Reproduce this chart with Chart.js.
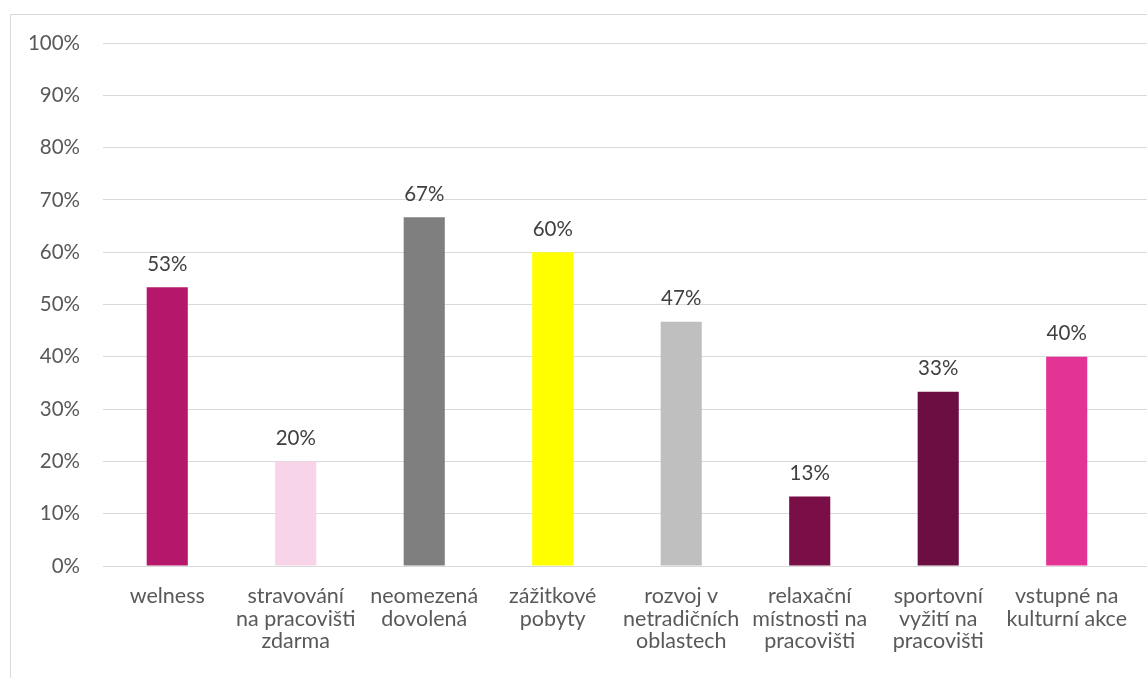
<!DOCTYPE html>
<html>
<head>
<meta charset="utf-8">
<script src="https://cdn.jsdelivr.net/npm/chart.js@4"></script>
<style>
  body { margin: 0; background: #fff; }
  #wrap {
    position: absolute; left: 10px; top: 14px;
    width: 1136px; height: 663px;
    border-left: 1px solid #d9d9d9; border-top: 1px solid #d9d9d9;
  }
</style>
</head>
<body>
<div id="wrap"><canvas id="myChart" width="1136" height="663"></canvas></div>
<script>
// categories (multi-line labels as in the original)
const categories = [
  ["welness"],
  ["stravování", "na pracovišti", "zdarma"],
  ["neomezená", "dovolená"],
  ["zážitkové", "pobyty"],
  ["rozvoj v", "netradičních", "oblastech"],
  ["relaxační", "místnosti na", "pracovišti"],
  ["sportovní", "vyžití na", "pracovišti"],
  ["vstupné na", "kulturní akce"]
];
const values = [53.3, 20, 66.7, 60, 46.7, 13.3, 33.3, 40];
const barColors = ["#b5186b", "#f7d4e8", "#7f7f7f", "#ffff00", "#bfbfbf", "#7a0f48", "#6c0e42", "#e33495"];
const yTicks = [0, 10, 20, 30, 40, 50, 60, 70, 80, 90, 100];

const fontFamily = "Lato, 'Noto Sans', sans-serif";

// labels above the bars
const valueLabels = {
  id: "valueLabels",
  afterDatasetsDraw(chart) {
    const ctx = chart.ctx;
    const meta = chart.getDatasetMeta(0);
    ctx.save();
    ctx.font = "20.5px " + fontFamily;
    ctx.fillStyle = "#404040";
    ctx.textAlign = "center";
    ctx.textBaseline = "bottom";
    meta.data.forEach((bar, i) => {
      ctx.fillText(Math.round(values[i]) + "%", bar.x, bar.y - 13);
    });
    ctx.restore();
  }
};

// the original's gridlines run on to the right edge
const gridTail = {
  id: "gridTail",
  beforeDatasetsDraw(chart) {
    const ctx = chart.ctx;
    const y = chart.scales.y;
    ctx.save();
    ctx.strokeStyle = "#d9d9d9";
    ctx.lineWidth = 1;
    yTicks.forEach((v) => {
      const py = Math.round(y.getPixelForValue(v) - 0.5) + 0.5;
      ctx.beginPath();
      ctx.moveTo(chart.chartArea.right, py);
      ctx.lineTo(chart.width, py);
      ctx.stroke();
    });
    ctx.restore();
  }
};

new Chart("myChart", {
  type: "bar",
  data: {
    labels: categories,
    datasets: [
      {
        data: values,
        backgroundColor: barColors,
        borderWidth: 0,
        barPercentage: 0.32,
        categoryPercentage: 1
      }
    ]
  },
  options: {
    responsive: false,
    animation: false,
    layout: { padding: { top: 28, right: 16, left: 0, bottom: 0 } },
    plugins: {
      legend: { display: false },
      tooltip: { enabled: false }
    },
    scales: {
      x: {
        grid: { display: false, drawTicks: false },
        border: { color: "#d9d9d9", width: 1 },
        ticks: {
          color: "#595959",
          font: { family: fontFamily, size: 21.5, lineHeight: 1.05 },
          padding: 19,
          maxRotation: 0,
          autoSkip: false
        },
        afterFit(scale) { scale.height = 112; }
      },
      y: {
        min: 0,
        max: 100,
        afterBuildTicks(scale) { scale.ticks = yTicks.map((v) => ({ value: v })); },
        grid: { color: "#d9d9d9", lineWidth: 1, tickLength: 11, tickColor: "rgba(0,0,0,0)" },
        border: { display: false },
        ticks: {
          color: "#595959",
          font: { family: fontFamily, size: 20.5 },
          padding: 12,
          callback: (v) => v + "%"
        },
        afterFit(scale) { scale.width = 92; }
      }
    }
  },
  plugins: [valueLabels, gridTail]
});
</script>
</body>
</html>
